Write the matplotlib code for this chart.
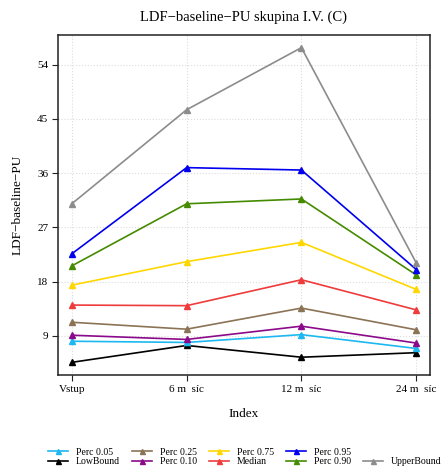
import matplotlib
matplotlib.use("Agg")
import matplotlib.pyplot as plt
from matplotlib.lines import Line2D

categories = ["Vstup", "6 m  síc", "12 m  síc", "24 m  síc"]
series_names = ["LowBound", "Perc 0.05", "Perc 0.10", "Perc 0.25", "Median",
                "Perc 0.75", "Perc 0.90", "Perc 0.95", "UpperBound"]
low_bound = [4.6, 7.4, 5.45, 6.2]
perc_05 = [8.1, 7.9, 9.2, 6.9]
perc_10 = [9.1, 8.4, 10.6, 7.8]
perc_25 = [11.25, 10.1, 13.6, 10.0]
median = [14.1, 14.0, 18.3, 13.3]
perc_75 = [17.4, 21.3, 24.5, 16.7]
perc_90 = [20.6, 30.9, 31.7, 19.1]
perc_95 = [22.6, 36.9, 36.5, 20.0]
upper_bound = [30.9, 46.5, 56.8, 21.1]
yticks = [9, 18, 27, 36, 45, 54]

colors = {
    "LowBound": "#000000",
    "Perc 0.05": "#1EB8F0",
    "Perc 0.10": "#8B0A8B",
    "Perc 0.25": "#8B7355",
    "Median": "#EE3B3B",
    "Perc 0.75": "#FFD700",
    "Perc 0.90": "#458B00",
    "Perc 0.95": "#0000EE",
    "UpperBound": "#8C8C8C",
}
values = {
    "LowBound": low_bound, "Perc 0.05": perc_05, "Perc 0.10": perc_10,
    "Perc 0.25": perc_25, "Median": median, "Perc 0.75": perc_75,
    "Perc 0.90": perc_90, "Perc 0.95": perc_95, "UpperBound": upper_bound,
}

plt.rcParams['font.family'] = ['Liberation Serif', 'DejaVu Serif']
fig = plt.figure(figsize=(4.41, 4.73), dpi=100)
ax = fig.add_axes([58/441, 1-375/473, (430-58)/441, (375-35)/473])

x = list(range(len(categories)))
handles = {}
for name in series_names:
    h, = ax.plot(x, values[name], color=colors[name], lw=1.2, marker='^',
                 markersize=4, zorder=3)
    handles[name] = h

ax.set_xlim(-0.12, 3.12)
ax.set_ylim(2.5, 58.9)
ax.set_xticks(x)
ax.set_xticklabels(categories, fontsize=8)
ax.set_yticks(yticks)
ax.set_yticklabels([str(t) for t in yticks], fontsize=8)
ax.grid(True, color='#DCDCDC', linestyle=':', lw=0.8)
ax.set_axisbelow(True)
for s in ax.spines.values():
    s.set_color('#222222')
    s.set_linewidth(1.1)
ax.tick_params(direction='out', length=4, color='#222222', pad=3)

ax.set_title("LDF\u2212baseline\u2212PU skupina I.V. (C)", fontsize=10.5, pad=10)
ax.set_xlabel("Index", fontsize=9.5, labelpad=10)
ax.set_ylabel("LDF\u2212baseline\u2212PU", fontsize=9.5, labelpad=10)

blank = Line2D([], [], color='none')
order = ["Perc 0.05", "LowBound", "Perc 0.25", "Perc 0.10", "Perc 0.75", "Median",
         "Perc 0.95", "Perc 0.90", None, "UpperBound"]
lh = [handles[n] if n else blank for n in order]
ll = [n if n else "" for n in order]
fig.legend(lh, ll, loc='center', bbox_to_anchor=(0.555, 1-457/473), ncol=5,
           fontsize=7, frameon=False, handlelength=2.0, handletextpad=0.8,
           columnspacing=1.3, labelspacing=0.1, markerscale=0.9)

fig.savefig("out.png", dpi=100)
